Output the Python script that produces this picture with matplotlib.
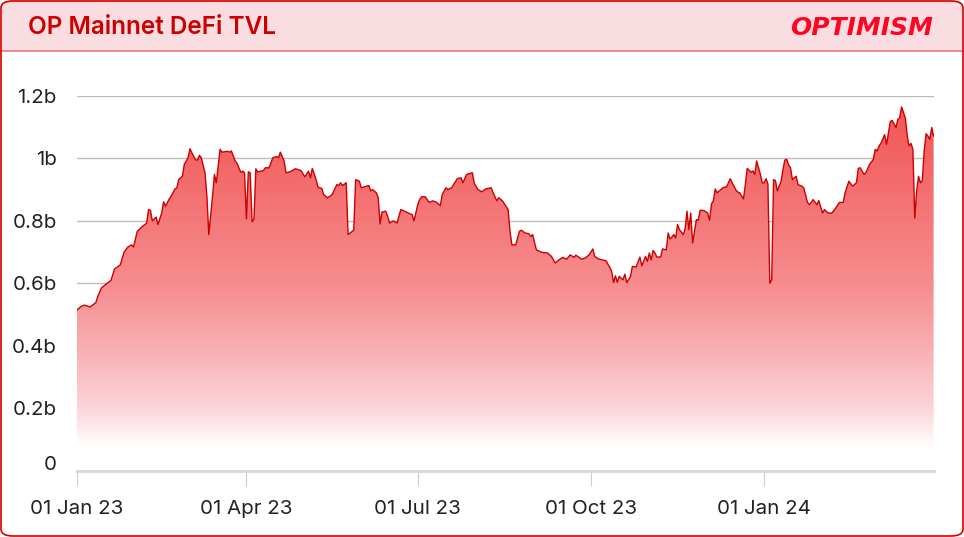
import numpy as np
import pandas as pd
import matplotlib
matplotlib.use("Agg")
import matplotlib.pyplot as plt
import matplotlib.dates as mdates
from matplotlib.patches import FancyBboxPatch, Rectangle
from matplotlib.colors import LinearSegmentedColormap
from matplotlib.transforms import ScaledTranslation

# ====== data (TVL in billions USD, days since 2023-01-01) ======
start_date = "2023-01-01"
day_offsets = [
    0, 2, 4, 7, 10, 11, 13, 16, 18, 20,
    23, 25, 27, 29, 30, 32, 34, 37, 38, 39,
    40, 42, 43, 45, 46, 47, 49, 50, 52, 53,
    54, 56, 57, 59, 60, 61, 63, 64, 65, 66,
    68, 69, 70, 72, 73, 74, 76, 77, 80, 81,
    82, 84, 85, 87, 88, 89, 90, 91, 92, 93,
    94, 95, 96, 99, 100, 102, 104, 106, 107, 108,
    110, 111, 113, 116, 118, 119, 121, 123, 124, 125,
    127, 128, 130, 131, 133, 135, 136, 138, 139, 140,
    141, 143, 144, 147, 148, 150, 151, 154, 155, 156,
    157, 159, 160, 161, 162, 164, 165, 166, 168, 170,
    172, 174, 176, 178, 179, 181, 182, 183, 185, 187,
    189, 191, 193, 194, 196, 197, 199, 202, 204, 205,
    207, 210, 211, 213, 215, 217, 220, 221, 223, 224,
    226, 229, 230, 231, 233, 235, 236, 238, 240, 241,
    242, 244, 247, 250, 252, 254, 256, 258, 260, 262,
    264, 265, 268, 270, 272, 274, 275, 277, 279, 281,
    283, 284, 285, 286, 287, 288, 290, 291, 292, 294,
    295, 297, 299, 300, 302, 303, 304, 305, 306, 307,
    308, 310, 311, 313, 314, 315, 316, 317, 318, 319,
    320, 322, 323, 324, 325, 326, 327, 329, 330, 331,
    333, 335, 336, 337, 338, 339, 340, 342, 343, 345,
    347, 348, 350, 351, 352, 354, 355, 356, 358, 359,
    360, 361, 363, 364, 365, 366, 367, 368, 369, 370,
    371, 372, 374, 375, 376, 377, 378, 379, 380, 382,
    383, 385, 386, 388, 389, 390, 391, 393, 394, 396,
    397, 399, 401, 403, 405, 407, 408, 410, 412, 414,
    415, 416, 418, 419, 421, 423, 424, 425, 426, 427,
    429, 430, 432, 433, 435, 436, 437, 438, 440, 441,
    442, 443, 444, 445, 446, 447, 448, 449, 450, 451,
    452, 453, 454, 455,
]
tvl_bn = [
    .514, .525, .530, .524, .538, .557, .585, .600, .609, .646,
    .659, .700, .716, .723, .716, .766, .778, .793, .836, .834,
    .800, .812, .788, .825, .861, .847, .870, .879, .902, .905,
    .932, .943, .981, 1.002, 1.031, 1.018, .995, .995, 1.010, 1.002,
    .954, .879, .756, .879, .949, .922, 1.029, 1.020, 1.023, 1.020,
    1.024, .992, .984, .956, .959, .954, .806, .957, .954, .797,
    .806, .967, .957, .961, .970, .970, 1.002, 1.006, 1.002, 1.020,
    .992, .954, .957, .967, .963, .961, .941, .959, .938, .968,
    .932, .908, .904, .884, .874, .881, .890, .916, .913, .922,
    .913, .922, .756, .770, .932, .927, .906, .911, .913, .896,
    .900, .890, .874, .790, .828, .831, .815, .793, .800, .793,
    .836, .831, .825, .820, .800, .852, .868, .877, .877, .859,
    .864, .859, .849, .884, .906, .900, .906, .935, .938, .922,
    .949, .954, .920, .900, .893, .902, .906, .890, .864, .874,
    .864, .836, .766, .723, .723, .766, .770, .761, .759, .750,
    .756, .707, .699, .697, .686, .665, .675, .683, .677, .691,
    .683, .690, .677, .681, .691, .710, .686, .678, .675, .672,
    .651, .638, .602, .624, .603, .622, .611, .629, .602, .622,
    .654, .652, .684, .656, .686, .670, .697, .675, .705, .697,
    .684, .684, .710, .707, .761, .742, .748, .756, .745, .788,
    .772, .756, .774, .831, .772, .825, .729, .804, .802, .834,
    .833, .825, .802, .854, .864, .902, .890, .900, .906, .909,
    .935, .922, .899, .892, .890, .870, .916, .968, .956, .960,
    .949, .992, .949, .922, .922, .935, .918, .600, .611, .932,
    .929, .896, .927, .965, .995, .997, .979, .970, .932, .943,
    .916, .911, .906, .859, .852, .859, .868, .852, .865, .825,
    .836, .825, .825, .841, .859, .859, .890, .927, .911, .922,
    .968, .970, .949, .954, .981, .997, 1.029, 1.024, 1.040, 1.048,
    1.076, 1.045, 1.118, 1.122, 1.099, 1.125, 1.131, 1.165, 1.129, 1.072,
    1.040, 1.048, 1.029, .809, .896, .943, .922, .929, 1.024, 1.079,
    1.072, 1.061, 1.099, 1.072,
]

title = "OP Mainnet DeFi TVL"
brand = "OPTIMISM"
x_tick_dates = ["2023-01-01", "2023-04-01", "2023-07-01", "2023-10-01", "2024-01-01"]
y_ticks = [0, 0.2, 0.4, 0.6, 0.8, 1.0, 1.2]
y_tick_labels = ["0", "0.2b", "0.4b", "0.6b", "0.8b", "1b", "1.2b"]

dates = pd.Timestamp(start_date) + pd.to_timedelta(day_offsets, unit="D")
xnum = mdates.date2num(dates)
tvl = np.array(tvl_bn)

# ====== figure / card ======
W, H = 964, 537
fig = plt.figure(figsize=(W / 100, H / 100), dpi=100)
fig.patch.set_facecolor("white")

def fx(px):
    return px / W

def fy(py):
    return 1 - py / H

header_h = 51
# pink header with rounded top corners
fig.patches.append(FancyBboxPatch((fx(1.5), fy(header_h)), fx(W - 3), header_h / H,
                                  boxstyle="round,pad=0,rounding_size=0.0125",
                                  transform=fig.transFigure, facecolor="#fadde0",
                                  edgecolor="none", zorder=0))
fig.patches.append(Rectangle((fx(1.5), fy(header_h)), fx(W - 3), 20 / H,
                             transform=fig.transFigure, facecolor="#fadde0",
                             edgecolor="none", zorder=0))
fig.lines.append(plt.Line2D([fx(1), fx(W - 1)], [fy(header_h), fy(header_h)],
                            transform=fig.transFigure, color="#e37b7f", lw=1.2))
# outer border
fig.patches.append(FancyBboxPatch((fx(1), fy(H - 1)), fx(W - 2), (H - 2) / H,
                                  boxstyle="round,pad=0,rounding_size=0.0125",
                                  transform=fig.transFigure, facecolor="none",
                                  edgecolor="#d40000", lw=1.2, zorder=5))

fig.text(fx(28), fy(27), title, fontsize=17.5, family="Inter", weight="semibold",
         color="#cc0000", va="center", ha="left")
fig.text(fx(933), fy(28), brand, fontsize=18, family="DejaVu Sans", weight="bold",
         style="italic", color="#ff0420", va="center", ha="right")

# ====== plot area ======
left, right, top, bottom = 77, 933.6, 96, 470.5
ax = fig.add_axes([fx(left), fy(bottom), fx(right - left), (bottom - top) / H])
ax.set_facecolor("none")

ymax = 1.2
ax.set_xlim(xnum[0], xnum[-1])
ax.set_ylim(0, ymax)

# gradient fill under the curve
grad_cmap = LinearSegmentedColormap.from_list("tvl", [
    (0.0, "#ffffff"), (0.06, "#ffffff"), (0.17, "#fcd3d7"), (0.33, "#f9aeb1"),
    (0.5, "#f68c8e"), (0.83, "#f36666"), (1.0, "#f25252")])
grad = np.linspace(0, ymax, 300).reshape(-1, 1)
im = ax.imshow(grad, extent=[xnum[0], xnum[-1], 0, ymax], origin="lower",
               aspect="auto", cmap=grad_cmap, vmin=0, vmax=ymax, zorder=2)
poly = ax.fill_between(xnum, tvl, 0, color="none", lw=0)
im.set_clip_path(poly.get_paths()[0], ax.transData)

ax.plot(xnum, tvl, color="#cc0000", lw=1.0, zorder=3)

# grid and axes
ax.set_yticks(y_ticks)
ax.set_yticklabels(y_tick_labels)
ax.grid(axis="y", color="#bdbdbd", lw=1, zorder=1)
ax.set_axisbelow(True)
for s in ["top", "right", "left"]:
    ax.spines[s].set_visible(False)
ax.spines["bottom"].set_color("#d6d6d6")
ax.spines["bottom"].set_linewidth(2)
ax.spines["bottom"].set_zorder(4)

ax.set_xticks(mdates.date2num(pd.to_datetime(x_tick_dates)))
ax.xaxis.set_major_formatter(mdates.DateFormatter("%d %b %y"))
ax.tick_params(axis="x", length=11, width=0.8, color="#cccccc", pad=10,
               labelsize=14.8, labelcolor="#222222")
ax.tick_params(axis="y", length=0, pad=14.5, labelsize=14.8, labelcolor="#222222")
for lab in ax.get_xticklabels() + ax.get_yticklabels():
    lab.set_family("Inter")

# the zero label sits a little above the axis line
zero_lab = ax.get_yticklabels()[0]
zero_lab.set_transform(zero_lab.get_transform() + ScaledTranslation(0, 8 / 100, fig.dpi_scale_trans))

fig.savefig("out.png", dpi=100)
